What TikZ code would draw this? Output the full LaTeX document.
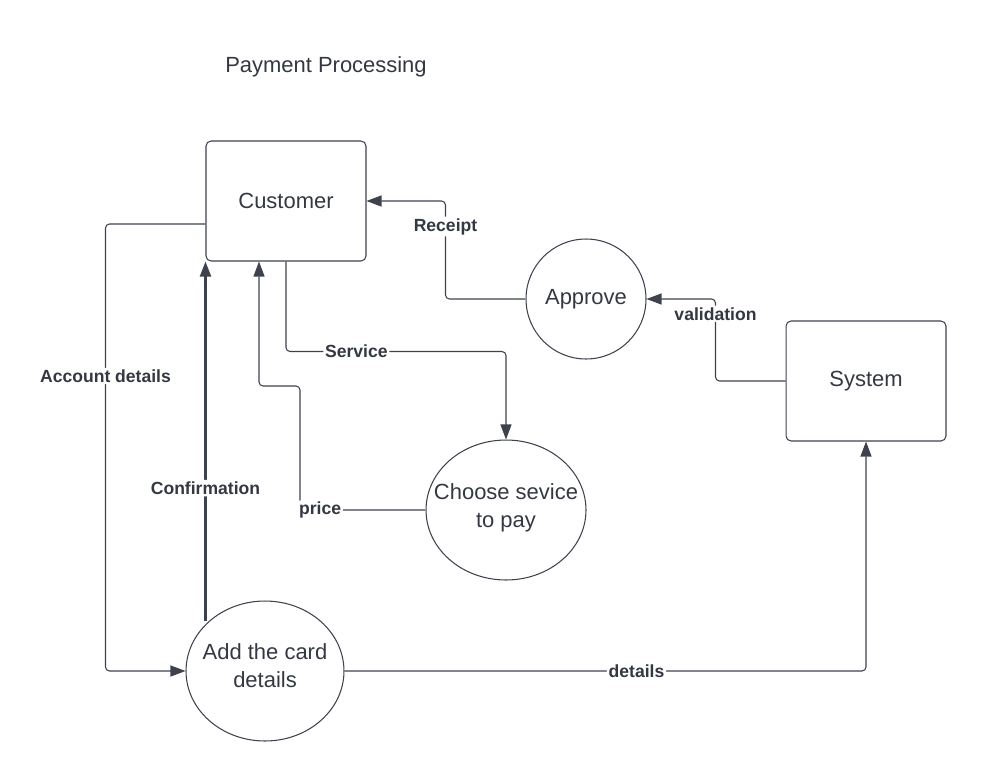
\documentclass[tikz,border=0pt]{standalone}
\usepackage{fontspec}
\setmainfont{Liberation Sans}
\usepackage{tikz}
\usetikzlibrary{arrows.meta,shapes.geometric}
\definecolor{myline}{RGB}{62,66,76}
\definecolor{mytext}{RGB}{52,56,66}

\begin{document}
\begin{tikzpicture}[x=0.02cm, y=-0.02cm,
    every node/.style={text=mytext},
    procbox/.style={draw=myline, line width=0.6pt, rounded corners=0.1cm, minimum width=3.2cm, minimum height=2.4cm, font=\fontsize{12.5}{15}\selectfont},
    procell/.style={draw=myline, line width=0.6pt, ellipse, inner sep=0pt},
    proctext/.style={align=center, font=\fontsize{12.5}{16}\selectfont},
    flow/.style={draw=myline, line width=0.6pt, rounded corners=0.08cm, -{Triangle[length=0.3cm, width=0.22cm]}},
    lbl/.style={fill=white, inner sep=1pt, font=\fontsize{10}{12}\selectfont\bfseries}]
  \useasboundingbox (0,0) rectangle (986,781);

  % Title
  \node[font=\fontsize{12.5}{15}\selectfont] (title) at (326,67) {Payment Processing};

  % Processes
  \node[procbox] (cust) at (286,201) {Customer};
  \node[procbox] (sys) at (866,381) {System};
  \node[procell, minimum width=2.4cm, minimum height=2.4cm] (appr) at (586,299) {};
  \node[proctext] (appr-txt) at (appr) {Approve};
  \node[procell, minimum width=3.2cm, minimum height=2.8cm] (choose) at (506,510) {};
  \node[proctext] (choose-txt) at ([yshift=0.04cm]choose) {Choose sevice\\to pay};
  \node[procell, minimum width=3.16cm, minimum height=2.8cm] (card) at (265,671) {};
  \node[proctext] (card-txt) at ([yshift=0.1cm]card) {Add the card\\details};

  % Flows
  \draw[flow] ([yshift=-0.46cm]cust.west) -- ++(-100,0) |- node[lbl, pos=0.17] {Account details} (card.west);
  \draw[flow, line width=1.2pt] (cust.south west |- card.north west) -- node[lbl, pos=0.37] {Confirmation} (cust.south west);
  \draw[flow] (choose.west) -| node[lbl, pos=0.42] {price} (300,386) -| ([xshift=-0.54cm]cust.south);
  \draw[flow] (cust.south) -- ++(0,90) -| node[lbl, pos=0.16] {Service} (choose.north);
  \draw[flow] (appr.west) -- ++(-80,0) |- node[lbl, pos=0.37] {Receipt} (cust.east);
  \draw[flow] (sys.west) -- ++(-70,0) |- node[lbl, pos=0.41] {validation} (appr.east);
  \draw[flow] (card.east) -| node[lbl, pos=0.28] {details} (sys.south);
\end{tikzpicture}
\end{document}
